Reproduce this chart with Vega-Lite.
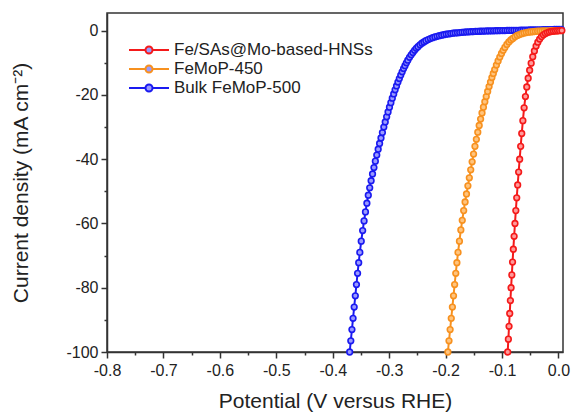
{
  "$schema": "https://vega.github.io/schema/vega-lite/v6.json",
  "width": 456,
  "height": 339,
  "autosize": "none",
  "padding": {"left": 107, "top": 13, "right": 11, "bottom": 62},
  "background": "white",
  "datasets": {
    "red": [
      {"v":-0.0900,"j":-100},{"v":-0.0888,"j":-96},{"v":-0.0876,"j":-92},{"v":-0.0864,"j":-88},{"v":-0.0852,"j":-84},{"v":-0.0840,"j":-80},{"v":-0.0827,"j":-76},{"v":-0.0814,"j":-72},{"v":-0.0800,"j":-68},{"v":-0.0786,"j":-64},{"v":-0.0771,"j":-60},{"v":-0.0756,"j":-56},{"v":-0.0740,"j":-52},{"v":-0.0723,"j":-48},{"v":-0.0706,"j":-44},{"v":-0.0688,"j":-40},{"v":-0.0670,"j":-36},{"v":-0.0651,"j":-32},{"v":-0.0631,"j":-28},{"v":-0.0609,"j":-24},{"v":-0.0586,"j":-20.5},{"v":-0.0562,"j":-17.5},{"v":-0.0537,"j":-14.8},{"v":-0.0511,"j":-12.3},{"v":-0.0484,"j":-10.1},{"v":-0.0456,"j":-8.1},{"v":-0.0427,"j":-6.3},{"v":-0.0397,"j":-4.8},{"v":-0.0366,"j":-3.6},{"v":-0.0334,"j":-2.6},{"v":-0.0301,"j":-1.85},{"v":-0.0267,"j":-1.3},{"v":-0.0232,"j":-0.9},{"v":-0.0196,"j":-0.6},{"v":-0.0160,"j":-0.4},{"v":-0.0124,"j":-0.25},{"v":-0.0088,"j":-0.15},{"v":-0.0052,"j":-0.08},{"v":-0.0016,"j":-0.03},{"v":0.0020,"j":0},{"v":0.0060,"j":0.05}
    ],
    "orange": [
      {"v":-0.1960,"j":-100},{"v":-0.1940,"j":-96.5},{"v":-0.1920,"j":-93},{"v":-0.1900,"j":-89.5},{"v":-0.1880,"j":-86},{"v":-0.1860,"j":-82.5},{"v":-0.1840,"j":-79},{"v":-0.1820,"j":-75.5},{"v":-0.1800,"j":-72.2},{"v":-0.1780,"j":-69},{"v":-0.1755,"j":-65.5},{"v":-0.1730,"j":-62},{"v":-0.1705,"j":-59},{"v":-0.1680,"j":-56},{"v":-0.1655,"j":-53.3},{"v":-0.1630,"j":-50.8},{"v":-0.1605,"j":-48.3},{"v":-0.1580,"j":-45.8},{"v":-0.1555,"j":-43.3},{"v":-0.1530,"j":-40.8},{"v":-0.1505,"j":-38.4},{"v":-0.1480,"j":-36.0},{"v":-0.1455,"j":-33.8},{"v":-0.1430,"j":-31.6},{"v":-0.1405,"j":-29.5},{"v":-0.1380,"j":-27.5},{"v":-0.1355,"j":-25.6},{"v":-0.1330,"j":-23.8},{"v":-0.1305,"j":-22.1},{"v":-0.1280,"j":-20.5},{"v":-0.1255,"j":-18.9},{"v":-0.1230,"j":-17.4},{"v":-0.1205,"j":-16.0},{"v":-0.1180,"j":-14.6},{"v":-0.1155,"j":-13.3},{"v":-0.1130,"j":-12.1},{"v":-0.1100,"j":-10.7},{"v":-0.1070,"j":-9.4},{"v":-0.1040,"j":-8.2},{"v":-0.1010,"j":-7.1},{"v":-0.0980,"j":-6.1},{"v":-0.0950,"j":-5.2},{"v":-0.0915,"j":-4.3},{"v":-0.0880,"j":-3.5},{"v":-0.0845,"j":-2.9},{"v":-0.0810,"j":-2.4},{"v":-0.0770,"j":-1.9},{"v":-0.0730,"j":-1.5},{"v":-0.0690,"j":-1.2},{"v":-0.0650,"j":-0.95},{"v":-0.0610,"j":-0.75},{"v":-0.0570,"j":-0.6},{"v":-0.0530,"j":-0.48},{"v":-0.0490,"j":-0.38},{"v":-0.0450,"j":-0.3},{"v":-0.0410,"j":-0.23},{"v":-0.0370,"j":-0.17},{"v":-0.0330,"j":-0.13},{"v":-0.0290,"j":-0.1},{"v":-0.0250,"j":-0.07},{"v":-0.0210,"j":-0.05},{"v":-0.0170,"j":-0.03},{"v":-0.0130,"j":-0.02},{"v":-0.0090,"j":-0.01},{"v":-0.0050,"j":0},{"v":-0.0010,"j":0.05},{"v":0.0040,"j":0.1}
    ],
    "blue": [
      {"v":-0.3700,"j":-100},{"v":-0.3680,"j":-96.5},{"v":-0.3660,"j":-93},{"v":-0.3640,"j":-89.5},{"v":-0.3620,"j":-86},{"v":-0.3600,"j":-82.5},{"v":-0.3580,"j":-79},{"v":-0.3560,"j":-75.5},{"v":-0.3540,"j":-72.2},{"v":-0.3520,"j":-69},{"v":-0.3495,"j":-65.5},{"v":-0.3470,"j":-62.2},{"v":-0.3445,"j":-59.2},{"v":-0.3420,"j":-56.4},{"v":-0.3395,"j":-53.7},{"v":-0.3370,"j":-51.2},{"v":-0.3345,"j":-48.9},{"v":-0.3320,"j":-46.7},{"v":-0.3295,"j":-44.6},{"v":-0.3270,"j":-42.6},{"v":-0.3245,"j":-40.6},{"v":-0.3220,"j":-38.7},{"v":-0.3195,"j":-36.9},{"v":-0.3170,"j":-35.1},{"v":-0.3145,"j":-33.4},{"v":-0.3120,"j":-31.7},{"v":-0.3095,"j":-30.0},{"v":-0.3070,"j":-28.4},{"v":-0.3045,"j":-26.8},{"v":-0.3020,"j":-25.3},{"v":-0.2995,"j":-23.8},{"v":-0.2970,"j":-22.4},{"v":-0.2945,"j":-21.0},{"v":-0.2920,"j":-19.7},{"v":-0.2895,"j":-18.4},{"v":-0.2870,"j":-17.2},{"v":-0.2845,"j":-16.0},{"v":-0.2820,"j":-14.9},{"v":-0.2795,"j":-13.8},{"v":-0.2770,"j":-12.8},{"v":-0.2745,"j":-11.8},{"v":-0.2720,"j":-10.9},{"v":-0.2695,"j":-10.0},{"v":-0.2670,"j":-9.2},{"v":-0.2640,"j":-8.3},{"v":-0.2610,"j":-7.5},{"v":-0.2580,"j":-6.8},{"v":-0.2550,"j":-6.1},{"v":-0.2520,"j":-5.5},{"v":-0.2490,"j":-5.0},{"v":-0.2455,"j":-4.4},{"v":-0.2420,"j":-3.9},{"v":-0.2385,"j":-3.5},{"v":-0.2350,"j":-3.1},{"v":-0.2310,"j":-2.75},{"v":-0.2270,"j":-2.45},{"v":-0.2230,"j":-2.2},{"v":-0.2190,"j":-1.95},{"v":-0.2150,"j":-1.75},{"v":-0.2110,"j":-1.55},{"v":-0.2070,"j":-1.4},{"v":-0.2030,"j":-1.25},{"v":-0.1990,"j":-1.1},{"v":-0.1950,"j":-1.0},{"v":-0.1910,"j":-0.9},{"v":-0.1870,"j":-0.8},{"v":-0.1830,"j":-0.72},{"v":-0.1790,"j":-0.65},{"v":-0.1750,"j":-0.58},{"v":-0.1710,"j":-0.52},{"v":-0.1670,"j":-0.46},{"v":-0.1630,"j":-0.41},{"v":-0.1590,"j":-0.36},{"v":-0.1550,"j":-0.32},{"v":-0.1510,"j":-0.28},{"v":-0.1470,"j":-0.24},{"v":-0.1430,"j":-0.21},{"v":-0.1390,"j":-0.18},{"v":-0.1350,"j":-0.15},{"v":-0.1310,"j":-0.12},{"v":-0.1270,"j":-0.1},{"v":-0.1230,"j":-0.08},{"v":-0.1190,"j":-0.06},{"v":-0.1150,"j":-0.04},{"v":-0.1110,"j":-0.02},{"v":-0.1070,"j":0},{"v":-0.1030,"j":0.02},{"v":-0.0990,"j":0.03},{"v":-0.0950,"j":0.05},{"v":-0.0910,"j":0.06},{"v":-0.0870,"j":0.08},{"v":-0.0830,"j":0.09},{"v":-0.0790,"j":0.1},{"v":-0.0750,"j":0.12},{"v":-0.0710,"j":0.13},{"v":-0.0670,"j":0.15},{"v":-0.0630,"j":0.16},{"v":-0.0590,"j":0.18},{"v":-0.0550,"j":0.19},{"v":-0.0510,"j":0.21},{"v":-0.0470,"j":0.22},{"v":-0.0430,"j":0.24},{"v":-0.0390,"j":0.25},{"v":-0.0350,"j":0.27},{"v":-0.0310,"j":0.28},{"v":-0.0270,"j":0.3},{"v":-0.0230,"j":0.31},{"v":-0.0190,"j":0.33},{"v":-0.0150,"j":0.34},{"v":-0.0110,"j":0.36},{"v":-0.0070,"j":0.37},{"v":-0.0030,"j":0.39},{"v":0.0010,"j":0.4},{"v":0.0050,"j":0.42}
    ]
  },
  "encoding": {
    "x": {
      "field": "v", "type": "quantitative",
      "scale": {"domain": [-0.8, 0.008], "nice": false, "zero": false},
      "axis": {
        "title": "Potential (V versus RHE)",
        "values": [-0.8,-0.75,-0.7,-0.65,-0.6,-0.55,-0.5,-0.45,-0.4,-0.35,-0.3,-0.25,-0.2,-0.15,-0.1,-0.05,0],
        "labelExpr": "abs(round(datum.value*100)) % 10 === 0 ? replace(format(datum.value, '.1f'), '\u2212', '-') : ''",
        "tickSize": {"condition": {"test": "abs(round(datum.value*100)) % 10 !== 0", "value": 3}, "value": 6},
        "labelPadding": 4,
        "titlePadding": 12
      }
    },
    "y": {
      "field": "j", "type": "quantitative",
      "scale": {"domain": [-100, 5.5], "nice": false, "zero": false},
      "axis": {
        "title": "Current density (mA cm\u207b\u00b2)",
        "values": [-100,-90,-80,-70,-60,-50,-40,-30,-20,-10,0],
        "labelExpr": "abs(datum.value) % 20 === 0 ? '' + datum.value : ''",
        "tickSize": {"condition": {"test": "abs(datum.value) % 20 !== 0", "value": 3}, "value": 6},
        "labelPadding": 3,
        "titlePadding": 34
      }
    },
    "stroke": {
      "type": "nominal",
      "scale": {
        "domain": ["Fe/SAs@Mo-based-HNSs", "FeMoP-450", "Bulk FeMoP-500"],
        "range": ["#f41a1a", "#f7911f", "#1a1af0"]
      },
      "legend": {
        "orient": "none", "legendX": 21, "legendY": 26, "title": null
      }
    }
  },
  "layer": [
    {"data": {"name": "blue"}, "encoding": {"stroke": {"datum": "Bulk FeMoP-500"}}, "mark": {"type": "line", "strokeWidth": 2}},
    {"data": {"name": "blue"}, "encoding": {"stroke": {"datum": "Bulk FeMoP-500"}}, "mark": {"type": "point", "shape": "circle", "filled": false, "fill": "#9a9aff", "fillOpacity": 1, "opacity": 1, "size": 32, "strokeWidth": 1.6}},
    {"data": {"name": "orange"}, "encoding": {"stroke": {"datum": "FeMoP-450"}}, "mark": {"type": "line", "strokeWidth": 2}},
    {"data": {"name": "orange"}, "encoding": {"stroke": {"datum": "FeMoP-450"}}, "mark": {"type": "point", "shape": "circle", "filled": false, "fill": "#ffc47e", "fillOpacity": 1, "opacity": 1, "size": 32, "strokeWidth": 1.6}},
    {"data": {"name": "red"}, "encoding": {"stroke": {"datum": "Fe/SAs@Mo-based-HNSs"}}, "mark": {"type": "line", "strokeWidth": 2}},
    {"data": {"name": "red"}, "encoding": {"stroke": {"datum": "Fe/SAs@Mo-based-HNSs"}}, "mark": {"type": "point", "shape": "circle", "filled": false, "fill": "#ff9a9a", "fillOpacity": 1, "opacity": 1, "size": 32, "strokeWidth": 1.6}}
  ],
  "config": {
    "font": "Liberation Sans",
    "view": {"stroke": "#333333", "strokeWidth": 1.5},
    "axis": {
      "grid": false,
      "domainColor": "#333333", "domainWidth": 1.5,
      "tickColor": "#333333", "tickWidth": 1.5,
      "labelFont": "Liberation Sans", "labelFontSize": 16, "labelColor": "#222222",
      "titleFont": "Liberation Sans", "titleFontSize": 21, "titleFontWeight": "normal", "titleColor": "#222222",
      "labelFlush": false, "labelOverlap": false
    },
    "legend": {
      "symbolType": "M-1,0L0.65,0M1.35,0L3,0M0.65,0A0.35,0.35 0 1,0 1.35,0A0.35,0.35 0 1,0 0.65,0",
      "symbolSize": 400,
      "symbolStrokeWidth": 2,
      "symbolFillColor": "#ffffff",
      "labelFont": "Liberation Sans", "labelFontSize": 17, "labelColor": "#222222",
      "labelLimit": 0,
      "labelOffset": 24,
      "rowPadding": 0
    }
  }
}
